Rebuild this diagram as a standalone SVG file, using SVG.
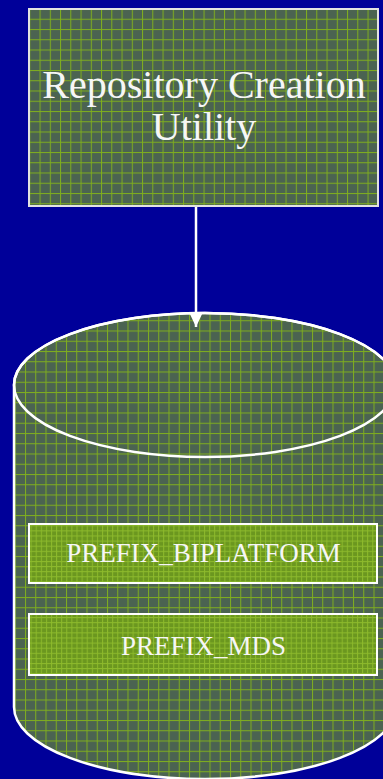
<svg xmlns="http://www.w3.org/2000/svg" width="383" height="779" viewBox="0 0 383 779">
  <style>
    .lbl { font-family: "Liberation Serif", "Times New Roman", serif; fill: #f6f6f6; text-anchor: middle; }
    .edge { stroke: #ffffff; stroke-width: 2.5; fill: none; }
  </style>
  <defs>
    <pattern id="grid" patternUnits="userSpaceOnUse" x="8.8" y="8.5" width="10.25" height="10.25">
      <rect width="10.25" height="10.25" fill="#4b6351"/>
      <rect x="0" y="0" width="10.25" height="1" fill="#7fad1f"/>
      <rect x="0" y="0" width="1" height="10.25" fill="#7fad1f"/>
    </pattern>
    <pattern id="grid2" patternUnits="userSpaceOnUse" x="4.5" y="2.5" width="10.25" height="10.25">
      <rect width="10.25" height="10.25" fill="#4b6351"/>
      <rect x="0" y="0" width="10.25" height="1" fill="#7fad1f"/>
      <rect x="0" y="0" width="1" height="10.25" fill="#7fad1f"/>
    </pattern>
    <pattern id="fine" patternUnits="userSpaceOnUse" x="0" y="0" width="5.1" height="5.1">
      <rect width="5.1" height="5.1" fill="#6b971f"/>
      <rect x="0" y="0" width="5.1" height="1" fill="#8dba2c"/>
      <rect x="0" y="0" width="1" height="5.1" fill="#8dba2c"/>
    </pattern>
    <marker id="arrow" markerUnits="userSpaceOnUse" markerWidth="15" markerHeight="14" refX="15" refY="7" orient="auto" viewBox="0 0 15 14">
      <path d="M0,0 L15,7 L0,14 Z" fill="#ffffff"/>
    </marker>
  </defs>

  <rect x="0" y="0" width="383" height="779" fill="#000099"/>

  <g id="node-rcu">
    <rect x="29" y="9" width="349" height="197" fill="url(#grid)" stroke="#e2e2e2" stroke-width="2"/>
    <text class="lbl" x="204" y="98" font-size="40">Repository Creation</text>
    <text class="lbl" x="204" y="140" font-size="40">Utility</text>
  </g>

  <g id="node-db">
    <path d="M14,385 L14,707 A191,72 0 0 0 396,707 L396,385 A191,72 0 0 0 14,385 Z" fill="url(#grid2)" stroke="#ffffff" stroke-width="2.5"/>
    <ellipse cx="205" cy="385" rx="191" ry="72" fill="none" stroke="#ffffff" stroke-width="2.5"/>
  </g>

  <g id="node-biplatform">
    <rect x="29" y="524" width="348" height="59" fill="url(#fine)" stroke="#ffffff" stroke-width="2"/>
    <text class="lbl" x="203.5" y="562" font-size="27">PREFIX_BIPLATFORM</text>
  </g>

  <g id="node-mds">
    <rect x="29" y="614" width="348" height="61" fill="url(#fine)" stroke="#ffffff" stroke-width="2"/>
    <text class="lbl" x="203.5" y="655" font-size="27">PREFIX_MDS</text>
  </g>

  <g id="connectors">
    <line class="edge" x1="196" y1="207" x2="196" y2="327" marker-end="url(#arrow)"/>
  </g>
</svg>
